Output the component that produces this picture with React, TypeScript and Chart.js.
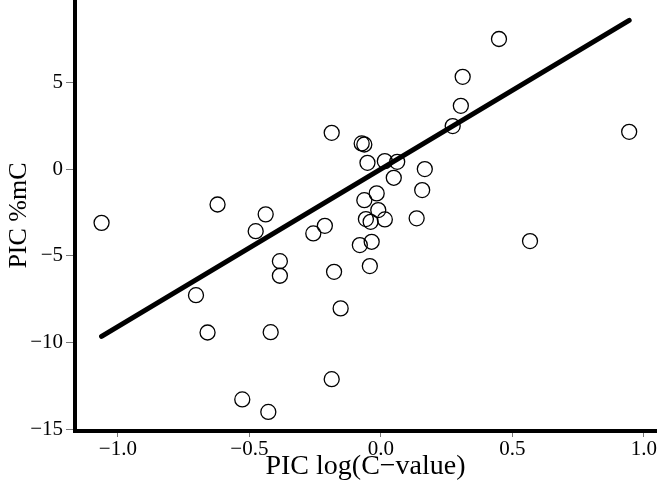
import React, { useEffect, useRef } from "react";
import { Chart, registerables } from "chart.js";

Chart.register(...registerables);

const xValues = [
  -1.062, -0.703, -0.659, -0.621, -0.527, -0.476, -0.438, -0.428, -0.419, -0.384,
  -0.384, -0.257, -0.213, -0.187, -0.187, -0.178, -0.153, -0.08, -0.073, -0.063,
  -0.063, -0.057, -0.051, -0.042, -0.039, -0.035, -0.016, -0.01, 0.015, 0.015,
  0.049, 0.062, 0.136, 0.157, 0.167, 0.273, 0.304, 0.311, 0.449, 0.567, 0.944,
];
const yValues = [
  -3.1, -7.27, -9.42, -2.04, -13.28, -3.58, -2.61, -14.0, -9.4, -5.31,
  -6.15, -3.71, -3.27, 2.09, -12.11, -5.92, -8.03, -4.38, 1.48, 1.42,
  -1.79, -2.88, 0.36, -5.59, -3.04, -4.19, -1.4, -2.36, 0.46, -2.9,
  -0.5, 0.42, -2.84, -1.21, 0.0, 2.48, 3.65, 5.32, 7.5, -4.15, 2.15,
];
const fitX = [-1.062, 0.944];
const fitY = [-9.65, 8.58];
const xTicks = [-1, -0.5, 0, 0.5, 1];
const yTicks = [-15, -10, -5, 0, 5];

const FONT = "'Liberation Serif', 'DejaVu Serif', serif";

export default function App() {
  const ref = useRef<HTMLCanvasElement | null>(null);
  useEffect(() => {
    document.body.style.margin = "0";
    const canvas = ref.current;
    if (!canvas) return;
    const chart = new Chart(canvas, {
      type: "scatter",
      data: {
        datasets: [
          {
            type: "line",
            data: fitX.map((x, i) => ({ x, y: fitY[i] })),
            borderColor: "#000",
            borderWidth: 5,
            borderCapStyle: "round",
            pointRadius: 0,
            fill: false,
            order: 0,
          } as any,
          {
            data: xValues.map((x, i) => ({ x, y: yValues[i] })),
            pointStyle: "circle",
            pointRadius: 7.5,
            pointBorderWidth: 1.3,
            borderColor: "#000",
            backgroundColor: "rgba(0,0,0,0)",
            pointBackgroundColor: "rgba(0,0,0,0)",
            pointBorderColor: "#000",
            order: 1,
          },
        ],
      },
      options: {
        animation: false,
        responsive: true,
        maintainAspectRatio: false,
        layout: { autoPadding: false, padding: { left: 0, right: 5, top: 0, bottom: 0 } },
        plugins: { legend: { display: false }, tooltip: { enabled: false } },
        scales: {
          x: {
            type: "linear",
            min: -1.163,
            max: 1.046,
            afterBuildTicks: (axis: any) => {
              axis.ticks = xTicks.map((v) => ({ value: v }));
            },
            afterFit: (axis: any) => {
              axis.height = 59;
              axis.paddingLeft = 0;
              axis.paddingRight = 0;
            },
            grid: {
              display: true,
              drawOnChartArea: false,
              drawTicks: true,
              tickLength: 6,
              color: "#777",
              lineWidth: 1,
            },
            border: { display: true, color: "#000", width: 4 },
            ticks: {
              color: "#000",
              padding: 0,
              maxRotation: 0,
              autoSkip: false,
              font: { family: FONT, size: 21 },
              callback: (v: any) => Number(v).toFixed(1).replace("-", "\u2212"),
            },
            title: {
              display: true,
              text: "PIC log(C\u2212value)",
              color: "#000",
              font: { family: FONT, size: 28 },
              padding: { top: 0, bottom: 7 },
            },
          },
          y: {
            type: "linear",
            min: -15.1,
            max: 9.75,
            afterBuildTicks: (axis: any) => {
              axis.ticks = yTicks.map((v) => ({ value: v }));
            },
            afterFit: (axis: any) => {
              axis.width = 75;
              axis.paddingTop = 0;
              axis.paddingBottom = 0;
            },
            grid: {
              display: true,
              drawOnChartArea: false,
              drawTicks: true,
              tickLength: 9,
              color: "#777",
              lineWidth: 1,
            },
            border: { display: true, color: "#000", width: 4 },
            ticks: {
              color: "#000",
              padding: 3,
              autoSkip: false,
              font: { family: FONT, size: 21 },
              callback: (v: any) => String(v).replace("-", "\u2212"),
            },
            title: {
              display: true,
              text: "PIC %mC",
              color: "#000",
              font: { family: FONT, size: 26 },
              padding: { top: 4, bottom: 0 },
            },
          },
        },
      },
    });
    return () => chart.destroy();
  }, []);
  return (
    <div style={{ width: 661, height: 490, position: "relative" }}>
      <canvas ref={ref} />
    </div>
  );
}
